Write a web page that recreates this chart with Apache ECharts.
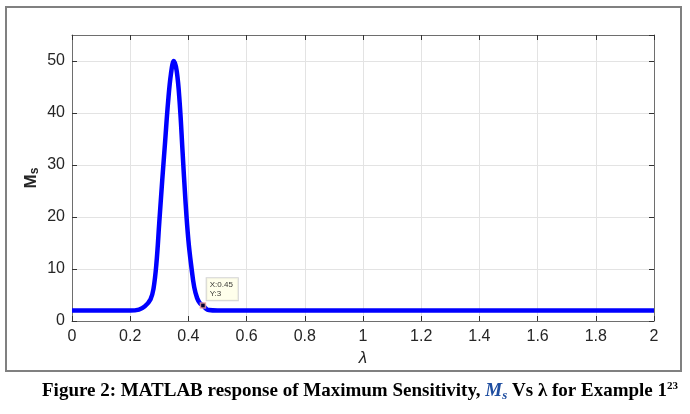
<!DOCTYPE html>
<html>
<head>
<meta charset="utf-8">
<script src="https://cdn.jsdelivr.net/npm/echarts@6/dist/echarts.min.js"></script>
<style>
  html, body { margin: 0; padding: 0; background: #fff; }
  #chart { width: 690px; height: 414px; }
</style>
</head>
<body>
<div id="chart"></div>
<script>
// values
let lambda = [0, 0.1, 0.2, 0.23, 0.25, 0.27, 0.28, 0.29, 0.30, 0.31, 0.32, 0.33, 0.34, 0.35,
    0.36, 0.37, 0.38, 0.39, 0.40, 0.41, 0.42, 0.43, 0.44, 0.45, 0.46, 0.47, 0.5,
    0.6, 0.8, 1.0, 1.2, 1.4, 1.6, 1.8, 2.0];
let ms = [2, 2, 2, 2.2, 2.8, 4.2, 6.2, 11, 19, 27, 34.5, 42, 47.5, 50,
    48, 42, 32.5, 23, 15.5, 10.5, 6.5, 4.4, 3.4, 3, 2.4, 2.1, 2,
    2, 2, 2, 2, 2, 2, 2, 2];
let tipPoint = [0.45, 3];
let xTicks = [0, 0.2, 0.4, 0.6, 0.8, 1, 1.2, 1.4, 1.6, 1.8, 2];

let axisColor = '#6e6e6e';
let chart = echarts.init(document.getElementById('chart'));

let boxAxis = {
    axisLine: {show: true, onZero: false, lineStyle: {color: axisColor, width: 1}},
    axisTick: {show: true, inside: true, length: 5, lineStyle: {color: '#333'}},
    axisLabel: {show: false},
    splitLine: {show: false}
};

let option = {
    backgroundColor: '#fff',
    animation: false,
    grid: {left: 72, right: 36, top: 35, bottom: 93},
    xAxis: [{
        type: 'value', min: 0, max: 2, interval: 0.2,
        name: 'λ', nameLocation: 'middle', nameGap: 27,
        nameTextStyle: {fontFamily: 'Liberation Sans', fontSize: 17, fontStyle: 'italic', color: '#262626'},
        axisLine: {show: true, onZero: false, lineStyle: {color: axisColor}},
        axisTick: {show: true, inside: true, length: 5, lineStyle: {color: '#333'}},
        axisLabel: {
            fontFamily: 'Liberation Sans', fontSize: 16, color: '#262626', margin: 8,
            formatter: v => String(xTicks.find(t => Math.abs(t - v) < 1e-6) ?? v)
        },
        splitLine: {show: true, lineStyle: {color: '#e3e3e3', width: 1}}
    }, Object.assign({type: 'value', min: 0, max: 2, interval: 0.2, position: 'top'}, boxAxis)],
    yAxis: [{
        type: 'value', min: 0, max: 55, interval: 10,
        name: '{m|M}{s|s}', nameLocation: 'middle', nameGap: 31, nameRotate: 90,
        nameMoveOverlap: false,
        nameTextStyle: {
            rich: {
                m: {fontFamily: 'Liberation Sans', fontSize: 17, fontWeight: 'bold', color: '#262626'},
                s: {fontFamily: 'Liberation Sans', fontSize: 12, fontWeight: 'bold', color: '#262626', padding: [8, 0, 0, 0]}
            }
        },
        axisLine: {show: true, onZero: false, lineStyle: {color: axisColor}},
        axisTick: {show: true, inside: true, length: 5, lineStyle: {color: '#333'}},
        axisLabel: {fontFamily: 'Liberation Sans', fontSize: 16, color: '#262626', margin: 7, showMaxLabel: false},
        splitLine: {show: true, lineStyle: {color: '#e3e3e3', width: 1}}
    }, Object.assign({type: 'value', min: 0, max: 55, interval: 10, position: 'right'}, boxAxis)],
    series: [{
        type: 'line',
        data: lambda.map((x, i) => [x, ms[i]]),
        showSymbol: false,
        smooth: 0.4,
        lineStyle: {color: '#0000ff', width: 4.5},
        z: 3
    }, {
        type: 'scatter',
        data: [tipPoint],
        symbol: 'rect',
        symbolSize: 5,
        itemStyle: {color: '#000', borderColor: '#f4a0a0', borderWidth: 1.5},
        z: 5,
        label: {
            show: true,
            position: [7, -24],
            formatter: p => 'X:' + p.value[0] + '\nY:' + p.value[1],
            fontFamily: 'Liberation Sans',
            fontSize: 8,
            lineHeight: 9,
            color: '#000',
            backgroundColor: '#ffffe6',
            borderColor: '#c8c8c8',
            borderWidth: 1,
            padding: [2, 5, 2, 3]
        }
    }],
    graphic: [{
        type: 'rect',
        shape: {x: 6, y: 7, width: 675, height: 364},
        style: {fill: 'none', stroke: '#808080', lineWidth: 2},
        silent: true
    }, {
        type: 'text',
        left: 42,
        top: 381,
        style: {
            text: '{b|Figure 2: MATLAB response of Maximum Sensitivity, }{m|M}{s|s}{b| Vs λ for Example 1}{sup|23}',
            rich: {
                b: {fontFamily: 'Liberation Serif', fontSize: 19, fontWeight: 'bold', fill: '#000'},
                m: {fontFamily: 'Liberation Serif', fontSize: 19, fontWeight: 'bold', fontStyle: 'italic', fill: '#1f4ea0'},
                s: {fontFamily: 'Liberation Serif', fontSize: 13, fontWeight: 'bold', fontStyle: 'italic', fill: '#1f4ea0', padding: [9, 0, 0, 0]},
                sup: {fontFamily: 'Liberation Serif', fontSize: 11, fontWeight: 'bold', fill: '#000', padding: [0, 0, 10, 0]}
            }
        }
    }]
};

chart.setOption(option);
</script>
</body>
</html>
